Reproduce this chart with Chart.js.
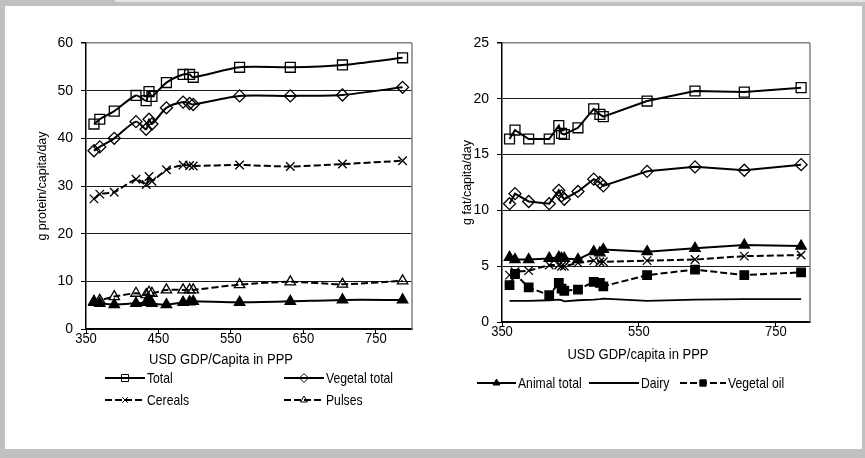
<!DOCTYPE html>
<html>
<head>
<meta charset="utf-8">
<script src="https://cdn.jsdelivr.net/npm/chart.js@4.4.1/dist/chart.umd.min.js"></script>
<style>
  html, body { margin: 0; padding: 0; background: #c0c0c0; }
  body { width: 865px; height: 458px; position: relative; overflow: hidden; }
  #strip { position: absolute; left: 115px; top: 0; width: 750px; height: 2px; background: #e4e4e4; }
  #panel { position: absolute; left: 5px; top: 6px; width: 857px; height: 443px; background: #fff; }
  canvas { position: absolute; }
</style>
</head>
<body>
<div id="strip"></div>
<div id="panel"></div>
<canvas id="protein" width="435" height="443" style="left:5px;top:6px"></canvas>
<canvas id="fat" width="422" height="443" style="left:440px;top:6px"></canvas>
<script>
// GDP per capita (USD, PPP) shared by every series
const gdp = [361, 369, 389, 419, 433, 437, 441, 461, 484, 493, 498, 562, 632, 704, 787];

// Protein supply, g/capita/day
const proteinTotal   = [43.0, 44.0, 45.7, 49.0, 47.9, 49.8, 48.8, 51.7, 53.4, 53.4, 52.8, 54.9, 54.9, 55.4, 56.9];
const proteinVegetal = [37.4, 38.2, 40.0, 43.5, 41.9, 44.0, 43.0, 46.4, 47.6, 47.3, 47.1, 48.9, 48.9, 49.1, 50.7];
const proteinCereals = [27.3, 28.3, 28.7, 31.4, 30.3, 32.0, 31.0, 33.4, 34.4, 34.3, 34.2, 34.4, 34.1, 34.6, 35.3];
const proteinPulses  = [5.8, 6.0, 6.8, 7.5, 7.2, 7.7, 7.5, 8.2, 8.2, 8.2, 8.2, 9.3, 9.9, 9.4, 10.1];
const proteinAnimal  = [5.6, 5.4, 5.1, 5.4, 5.6, 6.0, 5.4, 5.1, 5.6, 5.7, 5.8, 5.6, 5.8, 6.1, 6.1];

// Fat supply, g/capita/day
const fatTotal      = [16.4, 17.2, 16.4, 16.4, 17.6, 16.9, 16.8, 17.4, 19.1, 18.6, 18.4, 19.8, 20.7, 20.6, 21.0];
const fatVegetal    = [10.6, 11.5, 10.8, 10.6, 11.8, 11.3, 11.0, 11.7, 12.8, 12.5, 12.2, 13.5, 13.9, 13.6, 14.1];
const fatAnimal     = [5.8, 5.6, 5.6, 5.7, 5.8, 5.7, 5.7, 5.6, 6.3, 6.2, 6.5, 6.3, 6.6, 6.9, 6.8];
const fatCereals    = [4.2, 4.5, 4.6, 5.1, 5.1, 5.0, 5.0, 5.3, 5.5, 5.4, 5.4, 5.5, 5.6, 5.9, 6.0];
const fatDairy      = [1.9, 1.9, 1.9, 1.95, 2.0, 1.95, 1.85, 1.95, 2.0, 2.05, 2.1, 1.9, 2.0, 2.05, 2.05];
const fatVegetalOil = [3.3, 4.3, 3.1, 2.4, 3.5, 3.0, 2.8, 2.9, 3.6, 3.5, 3.2, 4.2, 4.7, 4.2, 4.45];

// Axis ticks
const proteinXTicks = [350, 450, 550, 650, 750];
const proteinYTicks = [0, 10, 20, 30, 40, 50, 60];
const fatXTicks = [350, 550, 750];
const fatYTicks = [0, 5, 10, 15, 20, 25];

const REG = '"Liberation Sans", Arial, sans-serif';
const NARROW_SCALE = 0.84;   // condensed look for axis titles, x labels and legend
const DASH = [7, 3];
const NONE = 'rgba(0,0,0,0)';

const pts = ys => gdp.map((x, i) => ({ x, y: ys[i] }));

function series(label, ys, s) {
  return {
    label,
    data: pts(ys),
    borderColor: '#000',
    borderWidth: s.width || 2,
    borderDash: s.dash ? DASH : [],
    pointStyle: s.marker || 'circle',
    pointRadius: s.marker ? s.r : 0,
    pointHoverRadius: s.marker ? s.r : 0,
    pointBackgroundColor: s.fill ? '#000' : NONE,
    pointBorderColor: '#000',
    pointBorderWidth: 1.3,
    tension: s.tension || 0,
    legendR: s.lr
  };
}

function narrowText(ctx, text, x, y, size, align) {
  ctx.save();
  ctx.font = size + 'px ' + REG;
  ctx.textAlign = align;
  ctx.textBaseline = 'middle';
  ctx.fillStyle = '#000';
  ctx.translate(x, y);
  ctx.scale(NARROW_SCALE, 1);
  ctx.fillText(text, 0, 0);
  ctx.restore();
}

// X tick labels, x title and legend rows (line segment with its marker, then label)
const lineLegend = {
  id: 'lineLegend',
  afterDraw(chart, args, opts) {
    const ctx = chart.ctx;
    const xs = chart.scales.x;
    opts.xTicks.forEach(v => {
      narrowText(ctx, String(v), xs.getPixelForValue(v), chart.chartArea.bottom + opts.tickOffset, 15.5, 'center');
    });
    narrowText(ctx, opts.title.text, opts.title.x, opts.title.y, 15.5, 'center');
    (opts.items || []).forEach(it => {
      const ds = chart.data.datasets[it.index];
      ctx.save();
      ctx.strokeStyle = '#000';
      ctx.lineWidth = ds.borderWidth;
      ctx.setLineDash(ds.borderDash || []);
      ctx.beginPath();
      ctx.moveTo(it.x1, it.y);
      ctx.lineTo(it.x2, it.y);
      ctx.stroke();
      ctx.setLineDash([]);
      if (ds.pointRadius > 0) {
        ctx.fillStyle = ds.pointBackgroundColor;
        ctx.strokeStyle = '#000';
        ctx.lineWidth = 1;
        Chart.helpers.drawPoint(ctx, { pointStyle: ds.pointStyle, radius: ds.legendR, borderWidth: 1 }, (it.x1 + it.x2) / 2, it.y);
      }
      ctx.restore();
      narrowText(ctx, ds.label, it.x2 + 2, it.y + 1, 14.5, 'left');
    });
  }
};

// Grey border on the right side of the plot area
const plotFrame = {
  id: 'plotFrame',
  beforeDatasetsDraw(chart) {
    const { ctx, chartArea: a } = chart;
    ctx.save();
    ctx.strokeStyle = '#808080';
    ctx.lineWidth = 1.5;
    ctx.beginPath();
    ctx.moveTo(a.right, a.top);
    ctx.lineTo(a.right, a.bottom);
    ctx.stroke();
    ctx.restore();
  }
};

function makeChart(id, cfg) {
  return new Chart(document.getElementById(id), {
    type: 'line',
    data: { datasets: cfg.datasets },
    options: {
      responsive: false,
      animation: false,
      events: [],
      layout: { padding: { left: 0, right: cfg.padRight, top: cfg.padTop, bottom: cfg.padBottom } },
      scales: {
        x: {
          type: 'linear',
          min: 350, max: 800,
          afterBuildTicks: s => { s.ticks = cfg.xTicks.map(v => ({ value: v })); },
          afterFit: s => { s.height = cfg.xHeight; },
          ticks: { display: false },
          grid: { drawOnChartArea: false, drawTicks: true, tickLength: 5, tickColor: '#000', tickWidth: 1 },
          border: { color: '#000', width: 1.5 }
        },
        y: {
          min: 0, max: cfg.yMax,
          afterBuildTicks: s => { s.ticks = cfg.yTicks.map(v => ({ value: v })); },
          afterFit: s => { s.width = cfg.yWidth; },
          ticks: { color: '#000', font: { family: REG, size: 14 }, padding: 8 },
          grid: {
            color: c => (c.tick && c.tick.value === cfg.yMax) ? '#808080' : '#1a1a1a',
            lineWidth: c => (c.tick && c.tick.value === cfg.yMax) ? 1.5 : 1,
            drawTicks: true, tickLength: 5, tickColor: '#000'
          },
          border: { color: '#000', width: 1.5 },
          title: { display: true, text: cfg.yTitle, color: '#000', font: { family: REG, size: 12.5 }, padding: { top: cfg.yTitlePad, bottom: 0 } }
        }
      },
      plugins: {
        legend: { display: false },
        tooltip: { enabled: false },
        lineLegend: { items: cfg.legend, title: cfg.xTitle, xTicks: cfg.xTicks, tickOffset: cfg.tickOffset }
      }
    },
    plugins: [plotFrame, lineLegend]
  });
}

makeChart('protein', {
  datasets: [
    series('Total', proteinTotal, { marker: 'rect', r: 7, lr: 5, tension: 0.25 }),
    series('Vegetal total', proteinVegetal, { marker: 'rectRot', r: 6, lr: 4.5, tension: 0.25 }),
    series('Cereals', proteinCereals, { marker: 'crossRot', r: 6, lr: 4, dash: true, tension: 0.25 }),
    series('Pulses', proteinPulses, { marker: 'triangle', r: 6, lr: 4, dash: true, tension: 0.25 }),
    series('Animal total', proteinAnimal, { marker: 'triangle', r: 6, lr: 4, fill: true, tension: 0.25 })
  ],
  xTicks: proteinXTicks, yTicks: proteinYTicks, yMax: 60,
  padRight: 28, padTop: 37, padBottom: 80, xHeight: 40, yWidth: 81,
  tickOffset: 10,
  yTitle: 'g protein/capita/day', yTitlePad: 30,
  xTitle: { text: 'USD GDP/Capita in PPP', x: 216, y: 354 },
  legend: [
    { index: 0, x1: 100, x2: 140, y: 372 },
    { index: 1, x1: 279, x2: 319, y: 372 },
    { index: 2, x1: 100, x2: 140, y: 394 },
    { index: 3, x1: 279, x2: 319, y: 394 }
  ]
});

makeChart('fat', {
  datasets: [
    series('Total', fatTotal, { marker: 'rect', r: 7, lr: 5 }),
    series('Vegetal total', fatVegetal, { marker: 'rectRot', r: 6, lr: 4.5 }),
    series('Animal total', fatAnimal, { marker: 'triangle', r: 6, lr: 4, fill: true }),
    series('Cereals', fatCereals, { marker: 'crossRot', r: 6, lr: 4, dash: true }),
    series('Dairy', fatDairy, { width: 1.8 }),
    series('Vegetal oil', fatVegetalOil, { marker: 'rect', r: 6, lr: 4.5, fill: true, dash: true })
  ],
  xTicks: fatXTicks, yTicks: fatYTicks, yMax: 25,
  padRight: 52, padTop: 37, padBottom: 88, xHeight: 39, yWidth: 62,
  tickOffset: 10,
  yTitle: 'g fat/capita/day', yTitlePad: 20,
  xTitle: { text: 'USD GDP/capita in PPP', x: 198, y: 349 },
  legend: [
    { index: 2, x1: 37, x2: 76, y: 377 },
    { index: 4, x1: 149, x2: 199, y: 377 },
    { index: 5, x1: 240, x2: 286, y: 377 }
  ]
});
</script>
</body>
</html>
